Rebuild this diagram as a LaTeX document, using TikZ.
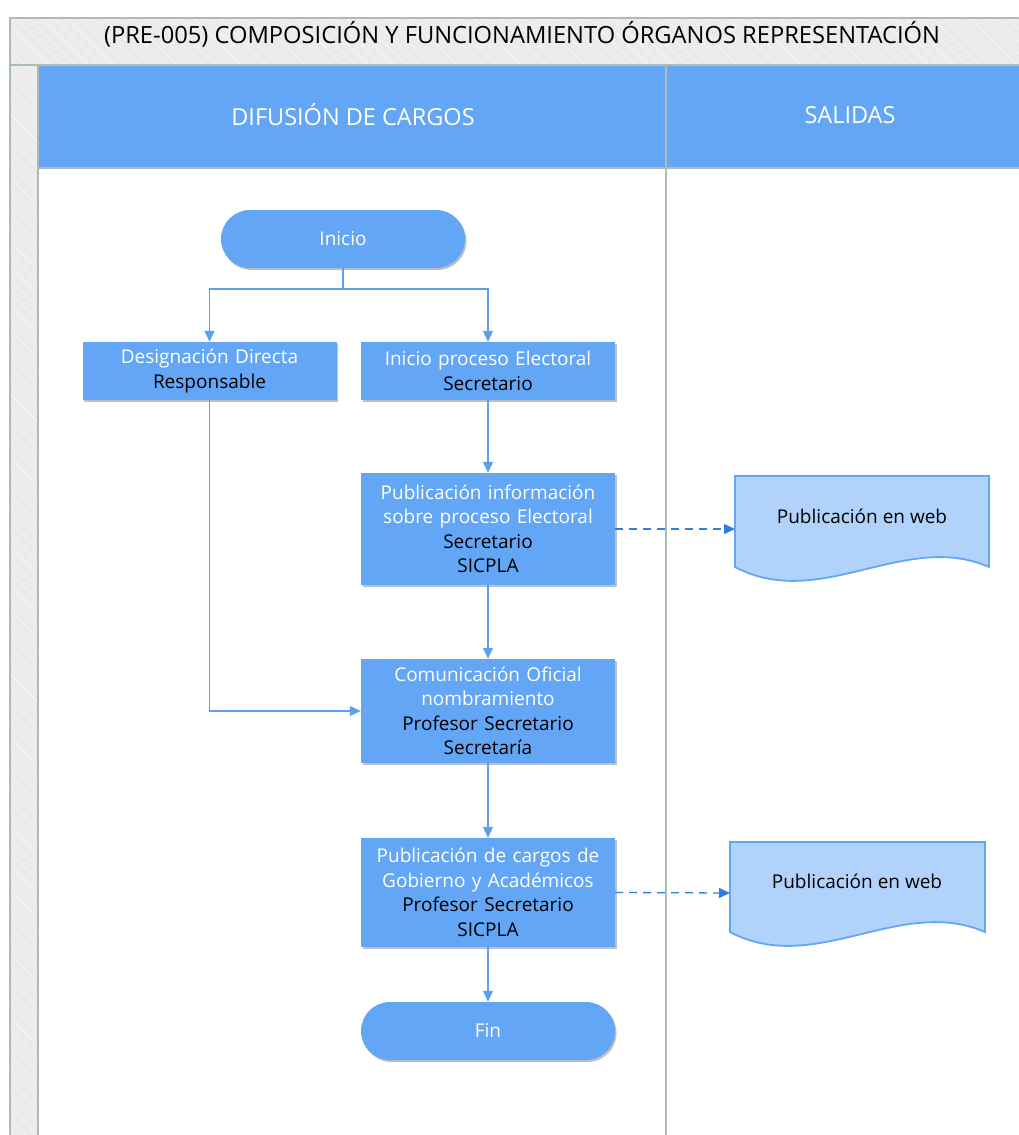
\documentclass[tikz,border=0pt]{standalone}
\usepackage{fontspec}
\setmainfont{Open Sans}
\usetikzlibrary{arrows.meta,shadows,patterns.meta}
\definecolor{lane}{HTML}{63A6F5}
\definecolor{docf}{HTML}{B1D2FA}
\definecolor{conn}{HTML}{5FA0EE}
\definecolor{dashc}{HTML}{2F7FE3}
\definecolor{frame}{HTML}{A9BDB5}
\definecolor{grayb}{HTML}{EBEBEB}
\tikzset{
  proc/.style={rectangle, fill=lane, minimum width=254pt, text width=250pt, align=center,
    font=\fontsize{19}{24.5}\selectfont, inner sep=0pt,
    drop shadow={shadow xshift=1.5pt, shadow yshift=-2pt, opacity=0.25, fill=black}},
  term/.style={rectangle, rounded corners=29pt, fill=lane, minimum width=244pt, minimum height=58pt,
    font=\fontsize{19}{24.5}\selectfont, text=white, inner sep=0pt,
    drop shadow={shadow xshift=1.5pt, shadow yshift=-2pt, opacity=0.25, fill=black}},
  flow/.style={draw=conn, line width=1.1pt, -{Triangle[length=11pt,width=10pt]}},
  dflow/.style={draw=dashc, line width=1.3pt, dash pattern=on 8pt off 6pt, -{Triangle[length=11pt,width=10pt]}},
  hdr/.style={font=\fontsize{23.5}{28}\selectfont, text=white},
  docshape/.style={fill=docf, draw=lane, line width=1.8pt},
  doct/.style={font=\fontsize{19}{24.5}\selectfont}
}
\begin{document}
\begin{tikzpicture}[x=1pt,y=-1pt]
\useasboundingbox (0,0) rectangle (1019,1135);
% gray areas
\fill[grayb] (10,18) rectangle (1025,65);
\fill[grayb] (10,65) rectangle (38,1140);
\fill[pattern={Lines[angle=-45,distance=9pt,line width=0.8pt]}, pattern color=white!60!grayb] (10,18) rectangle (1025,65);
\fill[pattern={Lines[angle=-45,distance=9pt,line width=0.8pt]}, pattern color=white!60!grayb] (10,65) rectangle (38,1140);
% lane headers
\fill[lane] (38,65) rectangle (1025,168);
\fill[white] (38,168) rectangle (1025,1140);
% lines
\draw[frame, line width=1.2pt] (10,1140) -- (10,18) -- (1025,18);
\draw[frame, line width=1.2pt] (10,65) -- (1025,65);
\draw[frame, line width=1.2pt] (38,65) -- (38,1140);
\draw[frame, line width=1.2pt] (38,168) -- (1025,168);
\draw[frame, line width=1.2pt] (666,65) -- (666,1140);
% title and headers
\node[font=\fontsize{23.7}{28}\selectfont] (title) at (522,34) {(PRE-005) COMPOSICIÓN Y FUNCIONAMIENTO ÓRGANOS REPRESENTACIÓN};
\node[hdr] (h1) at (353,115) {DIFUSIÓN DE CARGOS};
\node[hdr] (h2) at (850,115) {SALIDAS};
% nodes
\node[term] (inicio) at (343,239) {Inicio};
\node[proc, minimum height=58pt] (desig) at (209.5,371) {\textcolor{white}{Designación Directa}\\Responsable};
\node[proc, minimum height=58pt] (ipe) at (488,371) {\textcolor{white}{Inicio proceso Electoral}\\Secretario};
\node[proc, minimum height=112pt] (pub1) at (488,529) {\textcolor{white}{Publicación información}\\\textcolor{white}{sobre proceso Electoral}\\Secretario\\SICPLA};
\node[proc, minimum height=104pt] (com) at (488,711) {\textcolor{white}{Comunicación Oficial}\\\textcolor{white}{nombramiento}\\Profesor Secretario\\Secretaría};
\node[proc, minimum height=109pt] (pub2) at (488,892.5) {\textcolor{white}{Publicación de cargos de}\\\textcolor{white}{Gobierno y Académicos}\\Profesor Secretario\\SICPLA};
\node[term, minimum width=254pt] (fin) at (488,1031) {Fin};
% documents
\draw[docshape] (735,476) -- (989,476) -- (989,567) .. controls (905,530) and (820,612) .. (735,567) -- cycle;
\coordinate (d1) at (735,529);
\node[doct] (doc1) at (862,516) {Publicación en web};
\draw[docshape] (730,842) -- (985,842) -- (985,932) .. controls (900,895) and (815,977) .. (730,932) -- cycle;
\coordinate (d2) at (730,893);
\node[doct] (doc2) at (857,881) {Publicación en web};
% connectors
\coordinate (split) at (343,289);
\draw[flow] (inicio.south) -- (split) -| (desig.north);
\draw[flow] (split) -| (ipe.north);
\draw[flow] (ipe) -- (pub1);
\draw[flow] (pub1) -- (com);
\draw[flow] (desig.south) |- (com.west);
\draw[flow] (com) -- (pub2);
\draw[flow] (pub2) -- (fin);
\draw[dflow] (pub1.east) -- (d1);
\draw[dflow] (pub2.east) -- (d2);
\end{tikzpicture}
\end{document}
